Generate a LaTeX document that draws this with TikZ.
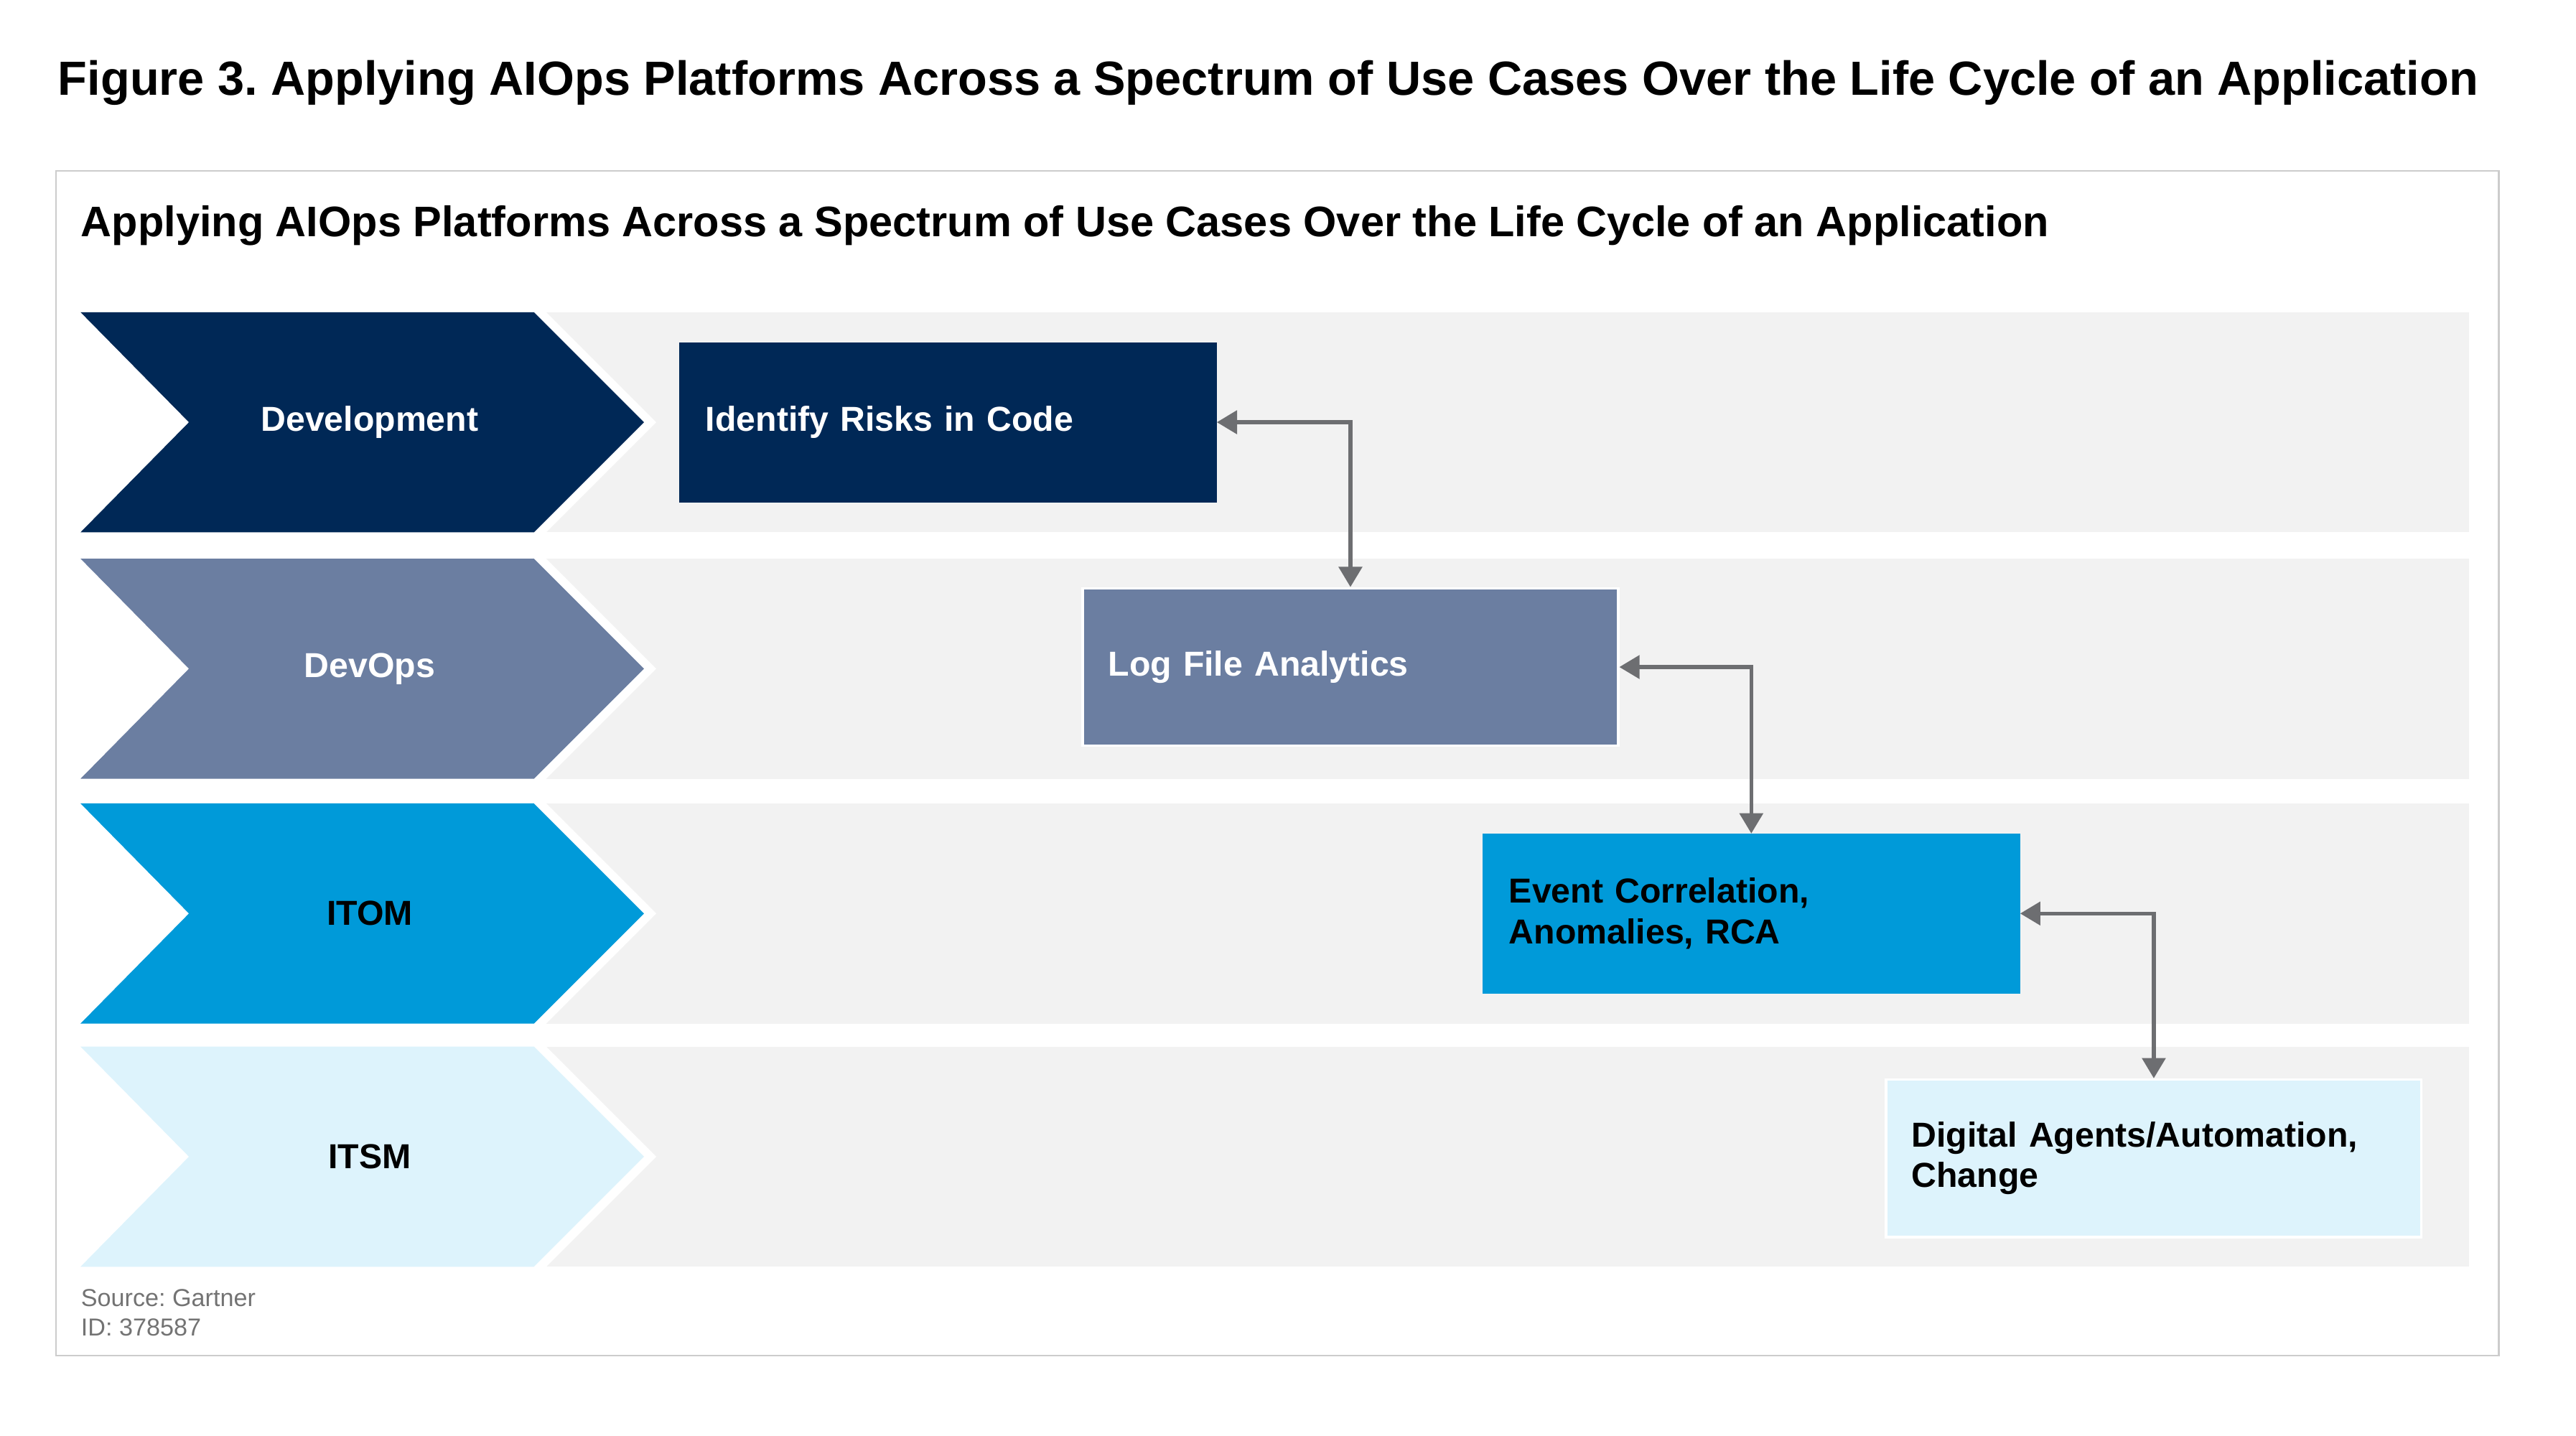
\documentclass[tikz,border=0pt]{standalone}
\usepackage{fontspec}
\setmainfont{Liberation Sans}
\usetikzlibrary{positioning}
\usetikzlibrary{arrows.meta}
\definecolor{devblue}{HTML}{002856}
\definecolor{opsblue}{HTML}{6B7EA1}
\definecolor{itomblue}{HTML}{009AD9}
\definecolor{itsmblue}{HTML}{DDF3FC}
\definecolor{bandgray}{HTML}{F2F2F2}
\definecolor{linkgray}{HTML}{6D6E71}
\frenchspacing

\begin{document}
\begin{tikzpicture}[x=0.02cm,y=-0.02cm,
            band/.style={fill=bandgray, draw=none},
            phase/.style={font=\bfseries\fontsize{12}{14}\selectfont},
            usecase/.style={rectangle, draw=white, line width=0.8pt, minimum width=6.52cm,
            minimum height=1.92cm, text width=5.9cm, inner sep=0.3cm, align=left,
            font=\bfseries\fontsize{12}{14}\selectfont},
            link/.style={linkgray, line width=1.3pt, {Triangle[length=7pt,width=8pt]}-{Triangle[length=7pt,width=8pt]}}]
        \useasboundingbox (0,0) rectangle (1568,874);
        \node[anchor=base west, inner sep=0pt, font=\bfseries\fontsize{16.6}{20}\selectfont] (title) at (35,58)
            {Figure 3. Applying AIOps Platforms Across a Spectrum of Use Cases Over the Life Cycle of an Application};
        \draw[black!20, line width=0.6pt] (34,104) rectangle (1521,825);
        \node[anchor=base west, inner sep=0pt, font=\bfseries\fontsize{14.8}{16}\selectfont] (subtitle) at (49,144)
            {Applying AIOps Platforms Across a Spectrum of Use Cases Over the Life Cycle of an Application};

        % bands and chevrons
        \foreach \top/\col/\txt/\tcol/\name in {190/devblue/Development/white/dev,
                340/opsblue/DevOps/white/ops, 489/itomblue/ITOM/black/itom, 637/itsmblue/ITSM/black/itsm} {
            \fill[band] (325,\top) rectangle (1503,\top+134);
            \draw[white, line width=6pt, line join=miter]
                (325,\top) -- (392,\top+67) -- (325,\top+134);
            \fill[\col]
                (49,\top) -- (325,\top) -- (392,\top+67) -- (325,\top+134) -- (49,\top+134) -- (115,\top+67) -- cycle;
            \node[phase, text=\tcol] (\name) at (225,\top+67) {\txt};
        }

        \node[usecase, fill=devblue, draw=devblue, text=white] (risk) at (577,257) {Identify Risks in Code};
        \node[usecase, fill=opsblue, text=white] (logs) at (822,406) {Log File Analytics};
        \node[usecase, fill=itomblue, draw=itomblue] (events) at (1066,556) {Event Correlation,\\Anomalies, RCA};
        \node[usecase, fill=itsmblue] (agents) at (1311,705) {Digital Agents/Automation,\\Change};

        \draw[link] (risk.east) -| (logs.north);
        \draw[link] (logs.east) -| (events.north);
        \draw[link] (events.east) -| (agents.north);

        \node[anchor=base west, inner sep=0pt, text=black!55, font=\fontsize{8.5}{10}\selectfont] (source) at (49,795) {Source: Gartner};
        \node[anchor=base west, inner sep=0pt, text=black!55, font=\fontsize{8.5}{10}\selectfont] (docid) at (49,813) {ID: 378587};
    \end{tikzpicture}
\end{document}
